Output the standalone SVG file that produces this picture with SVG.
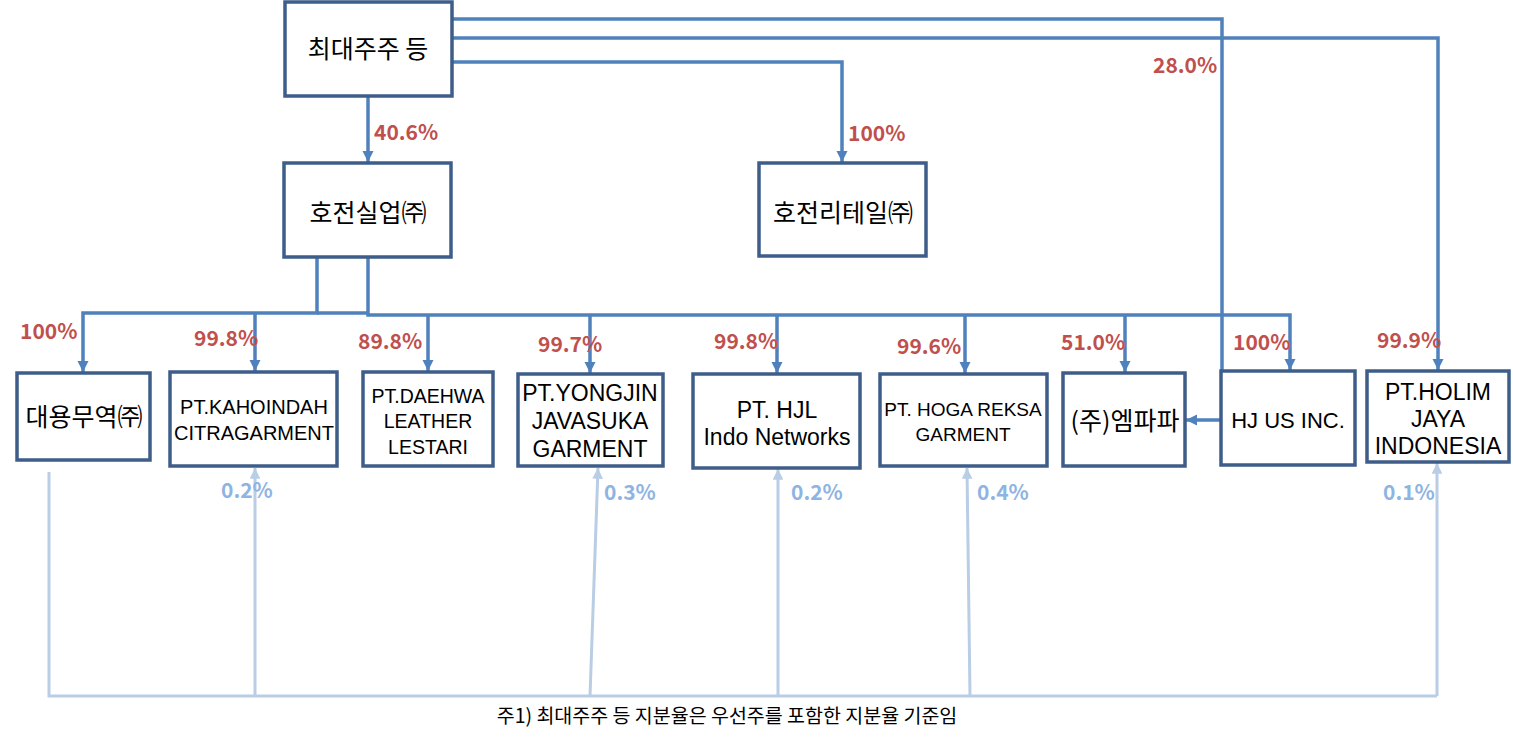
<svg xmlns="http://www.w3.org/2000/svg" width="1513" height="740" viewBox="0 0 1513 740">
<defs>
<style>
.box{fill:#fff;stroke:#3e5d89;stroke-width:3.5}
.t{font-family:"Noto Sans CJK KR","Noto Sans",sans-serif;fill:#000;text-anchor:middle}
.k{font-size:25px}
.l{font-family:"Liberation Sans",Arial,sans-serif;fill:#000;text-anchor:middle}
.e{font-size:20px}
.e2{font-size:23px}
.c{fill:none;stroke:#4f81bd;stroke-width:3.5}
.lc{fill:none;stroke:#b9cde5;stroke-width:3}
.p{font-family:"Noto Sans CJK KR","Noto Sans",sans-serif;font-weight:bold;font-size:21px;fill:#c0504d}
.lp{font-family:"Noto Sans CJK KR","Noto Sans",sans-serif;font-weight:bold;font-size:21px;fill:#8eb4e3}
.note{font-family:"Noto Sans CJK KR","Noto Sans",sans-serif;font-size:19.5px;fill:#000;text-anchor:middle}
</style>
<marker id="a" viewBox="0 0 10 10" refX="10" refY="5" markerWidth="3.2" markerHeight="3.4" orient="auto" markerUnits="strokeWidth"><path d="M0,0L10,5L0,10z" fill="#4f81bd"/></marker>
<marker id="la" viewBox="0 0 10 10" refX="10" refY="5" markerWidth="3.6" markerHeight="3.6" orient="auto" markerUnits="strokeWidth"><path d="M0,0L10,5L0,10z" fill="#b9cde5"/></marker>
</defs>
<rect width="1513" height="740" fill="#fff"/>
<g id="connectors">
<path class="c" d="M368,96V162" marker-end="url(#a)"/>
<path class="c" d="M452,19H1222V371"/>
<path class="c" d="M452,38H1438V370" marker-end="url(#a)"/>
<path class="c" d="M452,62H842V162" marker-end="url(#a)"/>
<path class="c" d="M317,257V313H83V372" marker-end="url(#a)"/>
<path class="c" d="M255,313V371" marker-end="url(#a)"/>
<path class="c" d="M317,313H368"/>
<path class="c" d="M368,257V315H1290V370" marker-end="url(#a)"/>
<path class="c" d="M428,315V371" marker-end="url(#a)"/>
<path class="c" d="M590,315V373" marker-end="url(#a)"/>
<path class="c" d="M777,315V373" marker-end="url(#a)"/>
<path class="c" d="M965,315V373" marker-end="url(#a)"/>
<path class="c" d="M1125,315V372" marker-end="url(#a)"/>
<path class="c" d="M1221,420H1186" marker-end="url(#a)"/>
<path class="lc" d="M49,472V696H1437"/>
<path class="lc" d="M255,696V468" marker-end="url(#la)"/>
<path class="lc" d="M590,696L598,468" marker-end="url(#la)"/>
<path class="lc" d="M778,696V469" marker-end="url(#la)"/>
<path class="lc" d="M970,696L967,468" marker-end="url(#la)"/>
<path class="lc" d="M1437,696V463" marker-end="url(#la)"/>
</g>
<g id="n_major"><rect class="box" x="285" y="2" width="167" height="94"/><text class="t k" x="368" y="58">최대주주 등</text></g>
<g id="n_hojeon"><rect class="box" x="284" y="163" width="167" height="94"/><text class="t k" x="368" y="222">호전실업㈜</text></g>
<g id="n_retail"><rect class="box" x="759" y="163" width="167" height="93"/><text class="t k" x="843" y="222">호전리테일㈜</text></g>
<g id="n_daeyong"><rect class="box" x="17" y="373" width="133" height="87"/><text class="t k" x="84" y="426">대용무역㈜</text></g>
<g id="n_kaho"><rect class="box" x="170" y="372" width="167" height="94"/><text class="l e" x="254" y="414">PT.KAHOINDAH</text><text class="l e" x="254" y="440">CITRAGARMENT</text></g>
<g id="n_daehwa"><rect class="box" x="363" y="372" width="130" height="94"/><text class="l" style="font-size:19.5px" x="428" y="403">PT.DAEHWA</text><text class="l" style="font-size:19.5px" x="428" y="428">LEATHER</text><text class="l" style="font-size:19.5px" x="428" y="454">LESTARI</text></g>
<g id="n_yongjin"><rect class="box" x="518" y="374" width="145" height="92"/><text class="l e2" x="590" y="401">PT.YONGJIN</text><text class="l e2" x="590" y="429">JAVASUKA</text><text class="l e2" x="590" y="457">GARMENT</text></g>
<g id="n_hjl"><rect class="box" x="693" y="374" width="167" height="94"/><text class="l e2" x="777" y="418">PT. HJL</text><text class="l e2" x="777" y="445">Indo Networks</text></g>
<g id="n_hoga"><rect class="box" x="880" y="374" width="167" height="92"/><text class="l" style="font-size:19px" x="963" y="416">PT. HOGA REKSA</text><text class="l" style="font-size:19px" x="963" y="441">GARMENT</text></g>
<g id="n_mpapa"><rect class="box" x="1063" y="373" width="122" height="93"/><text class="t k" x="1125" y="430">(주)엠파파</text></g>
<g id="n_hjus"><rect class="box" x="1221" y="371" width="134" height="94"/><text class="l" style="font-size:22px" x="1288" y="428">HJ US INC.</text></g>
<g id="n_holim"><rect class="box" x="1367" y="371" width="142" height="91"/><text class="l e2" x="1438" y="400">PT.HOLIM</text><text class="l e2" x="1438" y="427">JAYA</text><text class="l e2" x="1438" y="454">INDONESIA</text></g>
<g id="labels">
<text class="p" x="374" y="140">40.6%</text>
<text class="p" x="848" y="141">100%</text>
<text class="p" x="1153" y="73">28.0%</text>
<text class="p" x="20" y="339">100%</text>
<text class="p" x="194" y="346">99.8%</text>
<text class="p" x="358" y="349">89.8%</text>
<text class="p" x="538" y="352">99.7%</text>
<text class="p" x="714" y="349">99.8%</text>
<text class="p" x="897" y="354">99.6%</text>
<text class="p" x="1061" y="350">51.0%</text>
<text class="p" x="1233" y="350">100%</text>
<text class="p" x="1377" y="348">99.9%</text>
<text class="lp" x="221" y="498">0.2%</text>
<text class="lp" x="604" y="500">0.3%</text>
<text class="lp" x="791" y="500">0.2%</text>
<text class="lp" x="977" y="500">0.4%</text>
<text class="lp" x="1383" y="500">0.1%</text>
<text class="note" x="727" y="723">주1) 최대주주 등 지분율은 우선주를 포함한 지분율 기준임</text>
</g>
</svg>
